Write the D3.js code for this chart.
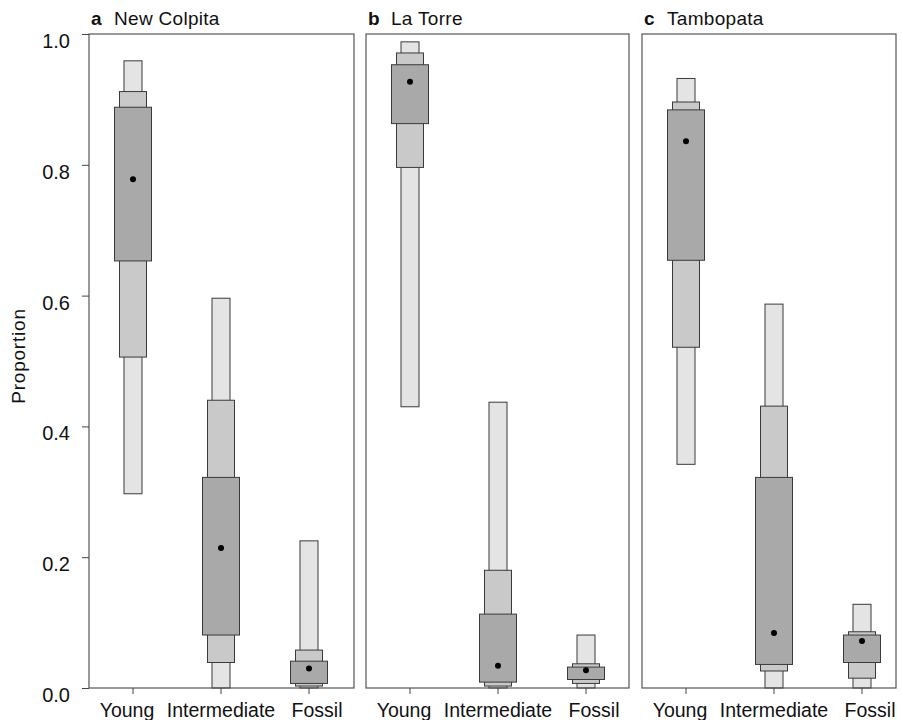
<!DOCTYPE html>
<html><head><meta charset="utf-8">
<script src="https://cdn.jsdelivr.net/npm/d3@7"></script>
<style>body{margin:0;background:#fff}svg{display:block}text{font-family:"Liberation Sans",Arial,sans-serif;fill:#111}</style>
</head><body><svg id="c" width="902" height="720"></svg>
<script>
const categories = ["Young", "Intermediate", "Fossil"];
const panelLetters = ["a", "b", "c"];
const panelNames = ["New Colpita", "La Torre", "Tambopata"];
const yTicks = [0, 0.2, 0.4, 0.6, 0.8, 1.0];
// per panel, per category: [light low, medium low, dark low, median, dark high, medium high, light high]
const newColpita = [
  [0.297, 0.506, 0.653, 0.778, 0.888, 0.912, 0.959],
  [0.000, 0.039, 0.081, 0.214, 0.322, 0.440, 0.596],
  [0.000, 0.003, 0.007, 0.030, 0.041, 0.058, 0.225]
];
const laTorre = [
  [0.430, 0.796, 0.863, 0.927, 0.953, 0.971, 0.988],
  [0.000, 0.003, 0.009, 0.034, 0.113, 0.180, 0.437],
  [0.000, 0.007, 0.013, 0.027, 0.032, 0.037, 0.081]
];
const tambopata = [
  [0.342, 0.521, 0.654, 0.836, 0.884, 0.896, 0.932],
  [0.000, 0.026, 0.036, 0.084, 0.322, 0.431, 0.587],
  [0.000, 0.015, 0.039, 0.072, 0.081, 0.086, 0.128]
];
const panelData = [newColpita, laTorre, tambopata];

(function () {
const svg = d3.select("#c");
const plotTop = 34, plotBottom = 688;
const panelLefts = [89, 366, 642];
const panelW = 264;
const frameW = [265, 263, 254];
const labelShift = {Young: -6, Intermediate: 0, Fossil: 8};
const y = d3.scaleLinear().domain([0, 1]).range([plotBottom, plotTop]);
const levels = [
  {lo: 0, hi: 6, w: 18, fill: "#e4e4e4"},
  {lo: 1, hi: 5, w: 27, fill: "#c9c9c9"},
  {lo: 2, hi: 4, w: 37, fill: "#a9a9a9"}
];

panelData.forEach((pd, pi) => {
  const left = panelLefts[pi];
  const x = d3.scaleBand().domain(categories).range([left, left + panelW]).padding(0);
  const g = svg.append("g");
  categories.forEach((cat, ci) => {
    const v = pd[ci];
    const cx = x(cat) + x.bandwidth() / 2;
    levels.forEach(l => {
      g.append("rect")
        .attr("x", cx - l.w / 2).attr("width", l.w)
        .attr("y", y(v[l.hi])).attr("height", y(v[l.lo]) - y(v[l.hi]))
        .attr("fill", l.fill).attr("stroke", "#3a3a3a").attr("stroke-width", 1);
    });
    g.append("circle").attr("cx", cx).attr("cy", y(v[3])).attr("r", 3).attr("fill", "#000");
  });
  g.append("rect").attr("x", left).attr("y", plotTop).attr("width", frameW[pi]).attr("height", plotBottom - plotTop)
    .attr("fill", "none").attr("stroke", "#555").attr("stroke-width", 1.2);
  const xa = svg.append("g").attr("transform", `translate(0,${plotBottom})`)
    .call(d3.axisBottom(x).tickSize(6).tickPadding(9));
  xa.select(".domain").remove();
  xa.selectAll(".tick line").attr("stroke", "#444");
  xa.selectAll("text").style("font-size", "19.5px").attr("fill", "#111")
    .attr("x", d => labelShift[d]);
  const t = svg.append("text").attr("x", left + 2).attr("y", 25).style("font-size", "19px");
  t.append("tspan").text(panelLetters[pi]).style("font-weight", "bold");
  t.append("tspan").attr("x", left + 25).style("letter-spacing", "0.3px").text(panelNames[pi]);
});

const ya = svg.append("g").attr("transform", `translate(${panelLefts[0]},0)`)
  .call(d3.axisLeft(y).tickValues(yTicks).tickFormat(d3.format(".1f")).tickSize(7).tickPadding(12));
ya.select(".domain").remove();
ya.selectAll(".tick line").attr("stroke", "#444");
ya.selectAll("text").style("font-size", "20px").attr("fill", "#111").attr("dy", "0.67em");

svg.append("text").attr("transform", "translate(25,356) rotate(-90)")
  .attr("text-anchor", "middle").style("font-size", "19px").style("letter-spacing", "0.8px").text("Proportion");
})();
</script></body></html>
